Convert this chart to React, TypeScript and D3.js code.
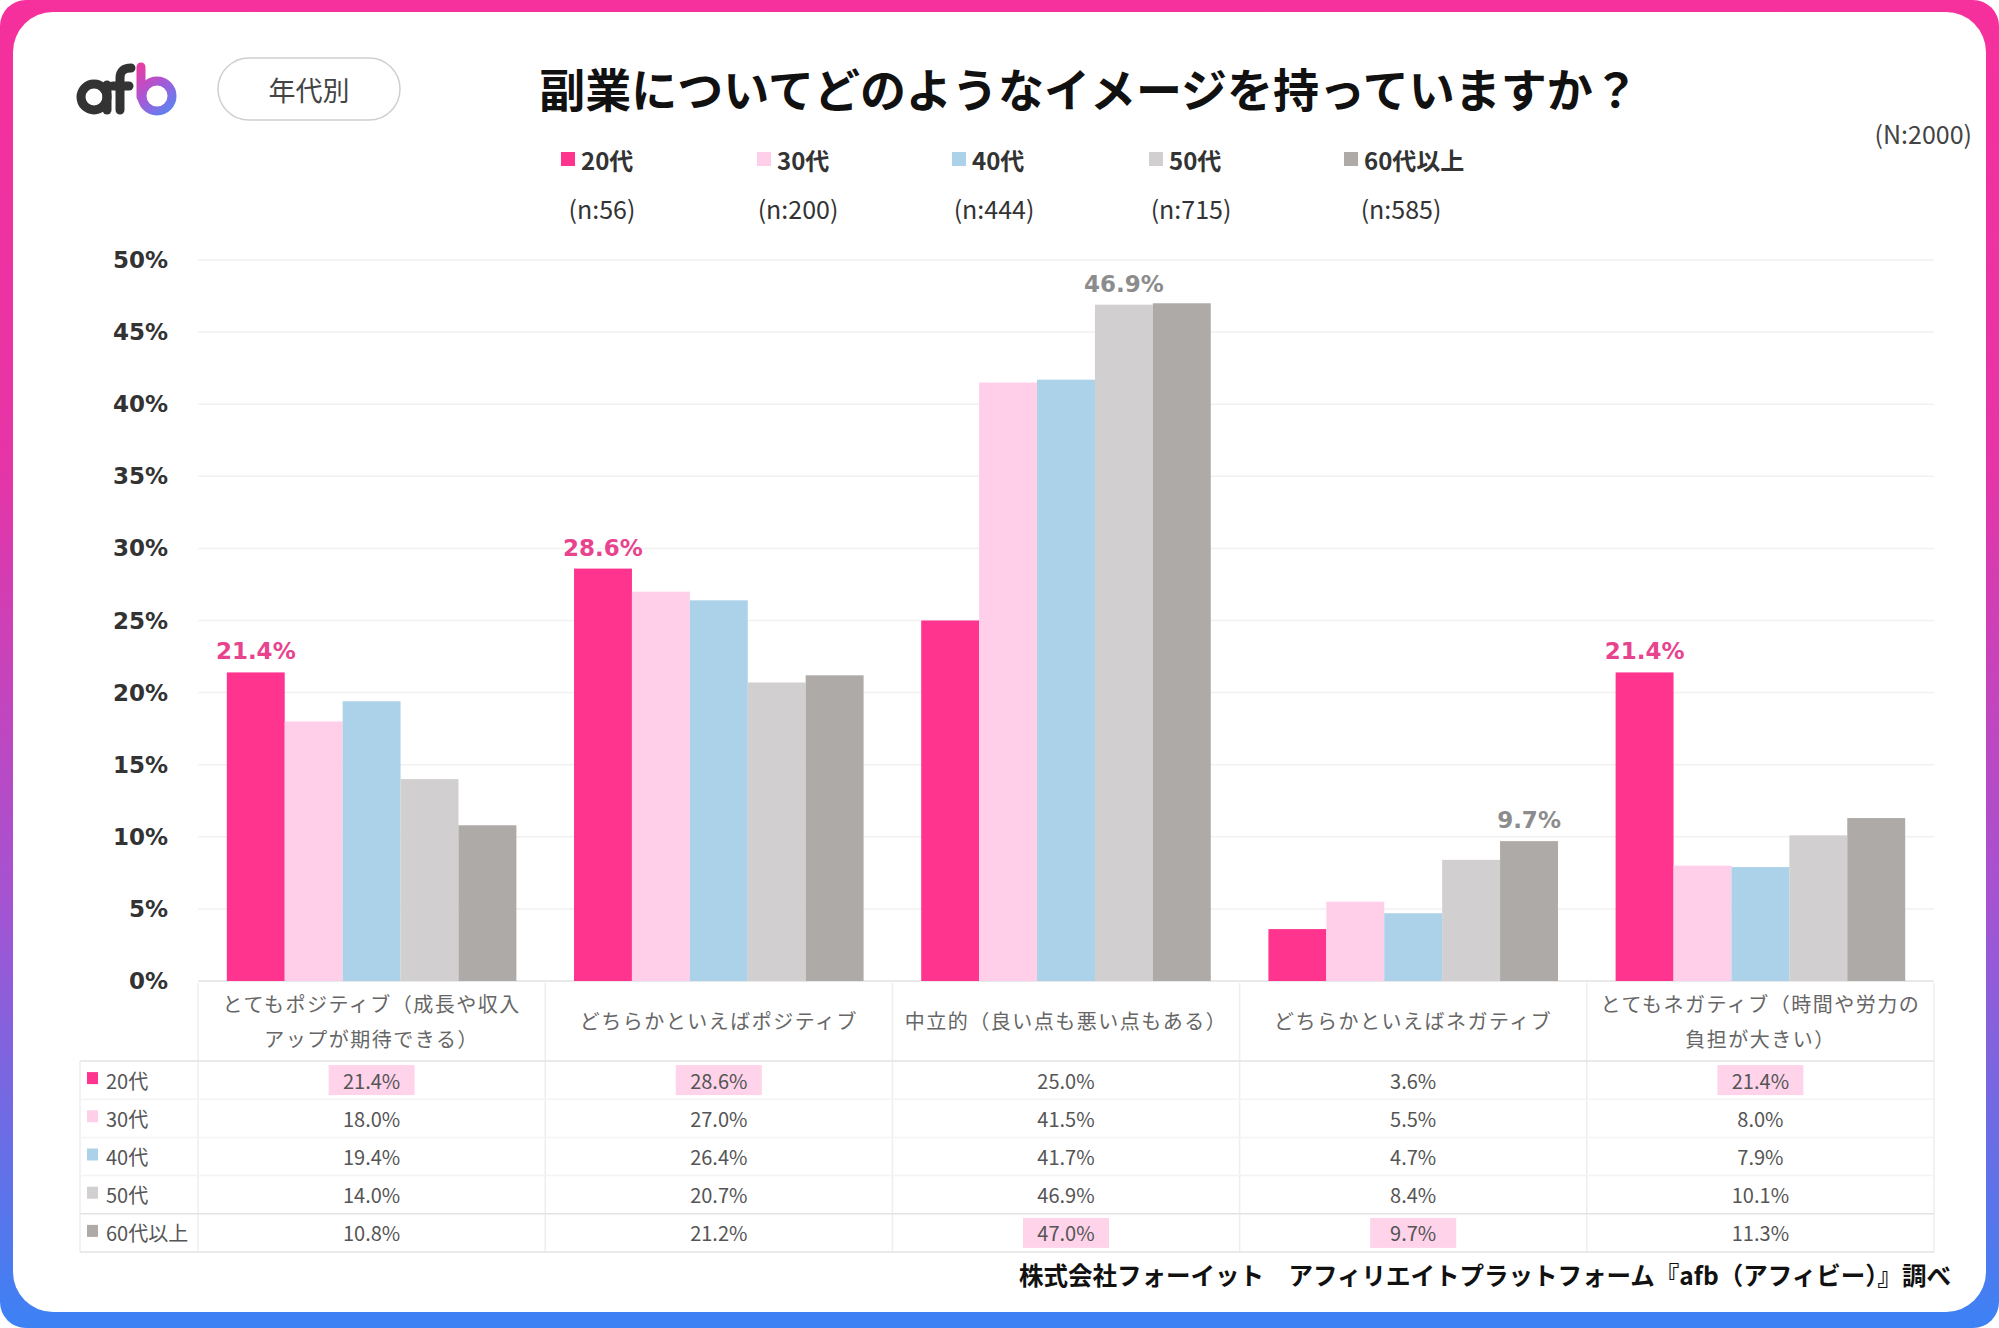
import React, { useEffect } from 'react';
import * as d3 from 'd3';

// survey answers (x axis categories, split into label lines)
const categoryLines: string[][] = [
  ['とてもポジティブ（成長や収入', 'アップが期待できる）'],
  ['どちらかといえばポジティブ'],
  ['中立的（良い点も悪い点もある）'],
  ['どちらかといえばネガティブ'],
  ['とてもネガティブ（時間や労力の', '負担が大きい）'],
];

const ageGroups = ['20代', '30代', '40代', '50代', '60代以上'];
const sampleSizes = [56, 200, 444, 715, 585];

const v20s = [21.4, 28.6, 25.0, 3.6, 21.4];
const v30s = [18.0, 27.0, 41.5, 5.5, 8.0];
const v40s = [19.4, 26.4, 41.7, 4.7, 7.9];
const v50s = [14.0, 20.7, 46.9, 8.4, 10.1];
const v60s = [10.8, 21.2, 47.0, 9.7, 11.3];
const seriesValues = [v20s, v30s, v40s, v50s, v60s];

const yTicks = [0, 5, 10, 15, 20, 25, 30, 35, 40, 45, 50];

// [category, series] pairs that get a value label over the bar
const barLabels: [number, number][] = [[0, 0], [1, 0], [2, 3], [3, 4], [4, 0]];
// [category, series] pairs highlighted in the table
const tableHighlights: [number, number][] = [[0, 0], [1, 0], [4, 0], [2, 4], [3, 4]];

const colors = ['#ff348f', '#ffcfe9', '#abd2e9', '#d1cfcf', '#aeaaa8'];

const W = 1999;
const H = 1328;
const JP = '"Noto Sans CJK JP", "Noto Sans", sans-serif';
const NUM = '"DejaVu Sans", sans-serif';

const App: React.FC = () => {
  useEffect(() => {
    document.body.style.margin = '0';
  }, []);

  const x = d3.scaleBand<number>().domain(d3.range(categoryLines.length)).range([198, 1934]);
  const bw = x.bandwidth();
  const xs = d3.scaleBand<number>().domain(d3.range(ageGroups.length)).range([bw * 0.083, bw * 0.917]);
  const y = d3.scaleLinear().domain([0, 50]).range([981, 260]);

  const tableTop = 1061;
  const rowH = 38.2;
  const rowY = (i: number) => tableTop + rowH * (i + 0.5);
  const tableBottom = tableTop + rowH * ageGroups.length;

  return (
    <svg width={W} height={H} viewBox={`0 0 ${W} ${H}`} style={{ display: 'block' }}>
      <defs>
        <linearGradient id="frame" x1="0" y1="0" x2="0" y2="1">
          <stop offset="0" stopColor="#f6309c" />
          <stop offset="0.35" stopColor="#e635a7" />
          <stop offset="0.68" stopColor="#a453d2" />
          <stop offset="1" stopColor="#3c82f5" />
        </linearGradient>
        <linearGradient id="logoB" gradientUnits="userSpaceOnUse" x1="136" y1="64" x2="178" y2="112">
          <stop offset="0" stopColor="#f0389e" />
          <stop offset="0.5" stopColor="#a45ad8" />
          <stop offset="1" stopColor="#4d8cf5" />
        </linearGradient>
      </defs>

      <rect x={0} y={0} width={W} height={H} rx={26} fill="url(#frame)" />
      <rect x={13} y={12} width={W - 26} height={H - 28} rx={40} fill="#ffffff" />

      {/* logo */}
      <g fill="none" strokeWidth={9} strokeLinecap="round">
        <circle cx={94} cy={97} r={13} stroke="#333" />
        <line x1={107} y1={85} x2={107} y2={110} stroke="#333" />
        <path d="M120,110 V78 Q120,68 131,68" stroke="#333" />
        <line x1={113} y1={86} x2={129} y2={86} stroke="#333" />
        <line x1={141} y1={67} x2={141} y2={97} stroke="url(#logoB)" />
        <circle cx={157} cy={96} r={15} stroke="url(#logoB)" />
      </g>

      {/* segment pill */}
      <rect x={218} y={58} width={182} height={62} rx={31} fill="#fff" stroke="#cfcfcf" strokeWidth={1.5} />
      <text x={309} y={89} textAnchor="middle" dominantBaseline="central" fontFamily={JP} fontSize={27} fill="#444">年代別</text>

      {/* title */}
      <text x={1089} y={87} textAnchor="middle" dominantBaseline="central" fontFamily={JP} fontWeight={700} fontSize={46} fill="#111">
        副業についてどのようなイメージを持っていますか？
      </text>
      <text x={1972} y={133} textAnchor="end" dominantBaseline="central" fontFamily={JP} fontSize={25} fill="#444">(N:2000)</text>

      {/* legend */}
      {ageGroups.map((g, i) => {
        const lx = [561, 757, 952, 1149, 1344][i];
        const nx = [602, 798, 994, 1191, 1401][i];
        return (
          <g key={g}>
            <rect x={lx} y={152} width={14} height={14} fill={colors[i]} />
            <text x={lx + 20} y={159} dominantBaseline="central" fontFamily={JP} fontWeight={700} fontSize={24} fill="#333">{g}</text>
            <text x={nx} y={208} textAnchor="middle" dominantBaseline="central" fontFamily={JP} fontSize={25} fill="#333">(n:{sampleSizes[i]})</text>
          </g>
        );
      })}

      {/* grid and y axis */}
      {yTicks.map((t) => (
        <g key={t}>
          <line x1={198} x2={1934} y1={y(t)} y2={y(t)} stroke={t === 0 ? '#e2e2e2' : '#f1f1f1'} strokeWidth={1.5} />
          <text x={168} y={y(t)} textAnchor="end" dominantBaseline="central" fontFamily={NUM} fontWeight={700} fontSize={23} fill="#333">{t}%</text>
        </g>
      ))}

      {/* bars */}
      {categoryLines.map((_, c) => (
        <g key={c} transform={`translate(${x(c)},0)`}>
          {seriesValues.map((vals, s) => (
            <rect key={s} x={xs(s)} y={y(vals[c])} width={xs.bandwidth()} height={y(0) - y(vals[c])} fill={colors[s]} />
          ))}
        </g>
      ))}

      {/* value labels over bars */}
      {barLabels.map(([c, s]) => (
        <text
          key={`${c}-${s}`}
          x={(x(c) as number) + (xs(s) as number) + xs.bandwidth() / 2}
          y={y(seriesValues[s][c]) - 13}
          textAnchor="middle"
          fontFamily={NUM}
          fontWeight={700}
          fontSize={23}
          fill={s === 0 ? '#e8448e' : '#8c8c8c'}
        >
          {seriesValues[s][c].toFixed(1)}%
        </text>
      ))}

      {/* category labels */}
      {categoryLines.map((lines, c) => {
        const cx = (x(c) as number) + bw / 2;
        const startY = lines.length === 1 ? 1020 : 1003;
        return lines.map((ln, k) => (
          <text key={`${c}-${k}`} x={cx} y={startY + k * 35} textAnchor="middle" dominantBaseline="central" fontFamily={JP} fontSize={20} letterSpacing={1.5} fill="#666">
            {ln}
          </text>
        ));
      })}

      {/* data table */}
      <g>
        {d3.range(categoryLines.length + 1).map((c) => {
          const lx = c === categoryLines.length ? 1934 : (x(c) as number);
          return <line key={c} x1={lx} x2={lx} y1={983} y2={tableBottom} stroke="#eeeeee" strokeWidth={1.5} />;
        })}
        <line x1={80} x2={80} y1={tableTop} y2={tableBottom} stroke="#eeeeee" strokeWidth={1.5} />
        {d3.range(ageGroups.length + 1).map((r) => (
          <line
            key={r}
            x1={80}
            x2={1934}
            y1={tableTop + r * rowH}
            y2={tableTop + r * rowH}
            stroke={r === 0 || r === 4 || r === 5 ? '#e3e3e3' : '#f4f4f4'}
            strokeWidth={1.5}
          />
        ))}
        {tableHighlights.map(([c, s]) => (
          <rect key={`h${c}-${s}`} x={(x(c) as number) + bw / 2 - 43} y={rowY(s) - 15} width={86} height={30} fill="#ffd3ea" />
        ))}
        {ageGroups.map((g, s) => (
          <g key={g}>
            <rect x={87} y={rowY(s) - 8} width={11} height={12} fill={colors[s]} />
            <text x={106} y={rowY(s)} dominantBaseline="central" fontFamily={JP} fontSize={20} fill="#555">{g}</text>
            {categoryLines.map((_, c) => (
              <text key={c} x={(x(c) as number) + bw / 2} y={rowY(s)} textAnchor="middle" dominantBaseline="central" fontFamily={JP} fontSize={20} fill="#555">
                {seriesValues[s][c].toFixed(1)}%
              </text>
            ))}
          </g>
        ))}
      </g>

      {/* source */}
      <text x={1951} y={1274} textAnchor="end" dominantBaseline="central" fontFamily={JP} fontWeight={700} fontSize={24.5} fill="#111">
        株式会社フォーイット　アフィリエイトプラットフォーム『afb（アフィビー）』調べ
      </text>
    </svg>
  );
};

export default App;
